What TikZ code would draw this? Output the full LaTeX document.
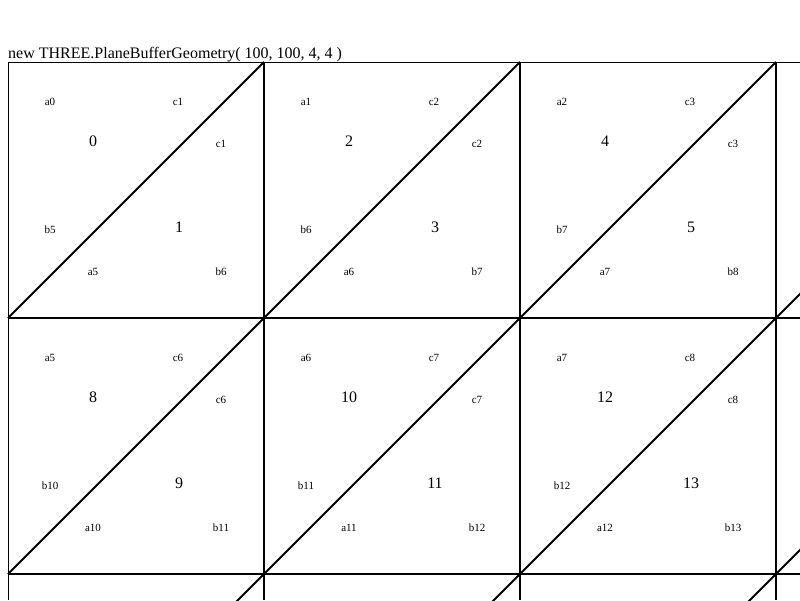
\documentclass[tikz,border=0pt]{standalone}
\usepackage{fontspec}
\setmainfont{Liberation Serif}
\usetikzlibrary{positioning}

\begin{document}
\begin{tikzpicture}[
    x=1pt, y=-1pt,
    gridline/.style={line width=2pt},
    frame/.style={line width=1pt},
    vert/.style={
		inner sep=0pt,
		font=\fontsize{11}{13}\selectfont
	},
    face/.style={
		inner sep=0pt,
		font=\fontsize{16}{19}\selectfont
	}
  ]
  \useasboundingbox (0,0) rectangle (800,600);
  \clip (0,0) rectangle (800,600);

  % title
  \node [anchor=base west, inner sep=0pt, font=\fontsize{16}{19}\selectfont] (title) at (8,58)
  {new THREE.PlaneBufferGeometry( 100, 100, 4, 4 )};

  % grid lines and diagonals
  \draw [frame] (8,600) -- (8,62) -- (800,62);
  \foreach \i in {1,2,3}
    \draw [gridline] (8+256*\i,62) -- (8+256*\i,600);
  \foreach \j in {1,2}
    \draw [gridline] (8,62+256*\j) -- (800,62+256*\j);
  \foreach \i in {0,...,3}
    \foreach \j in {0,1,2}
      \draw [gridline] (8+256*\i,318+256*\j) -- ++(256,-256);

  % vertex and face labels
  \foreach \i in {0,1,2}
    \foreach \j in {0,1} {
      \pgfmathtruncatemacro{\va}{5*\j+\i}
      \pgfmathtruncatemacro{\vc}{5*\j+\i+1}
      \pgfmathtruncatemacro{\vb}{5*\j+\i+5}
      \pgfmathtruncatemacro{\vd}{5*\j+\i+6}
      \pgfmathtruncatemacro{\fe}{8*\j+2*\i}
      \pgfmathtruncatemacro{\fo}{8*\j+2*\i+1}
      \begin{scope}[shift={(8+256*\i,62+256*\j)}]
        \node [vert] (a\i\j) at (42,40) {a\va};
        \node [vert] (c\i\j) at (170,40) {c\vc};
        \node [face] (f\i\j) at (85,79.5) {\fe};
        \node [vert] (cc\i\j) at (213,82) {c\vc};
        \node [vert] (b\i\j) at (42,168) {b\vb};
        \node [face] (g\i\j) at (171,165.5) {\fo};
        \node [vert] (aa\i\j) at (85,210) {a\vb};
        \node [vert] (bb\i\j) at (213,210) {b\vd};
      \end{scope}
    }

\end{tikzpicture}
\end{document}
